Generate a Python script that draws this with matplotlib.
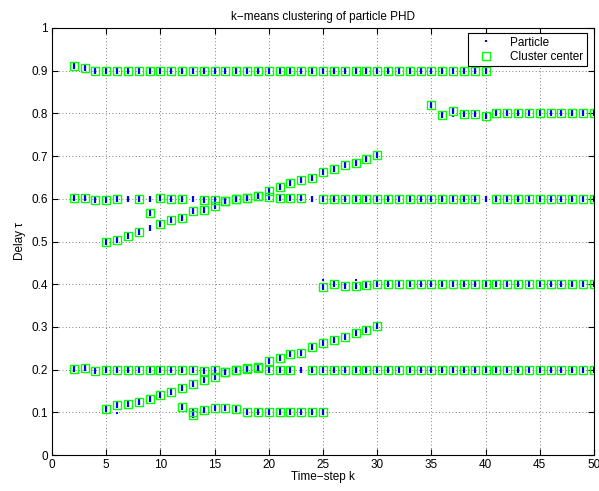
import matplotlib
matplotlib.use("Agg")
import matplotlib.pyplot as plt
import numpy as np

plt.rcParams['font.family'] = ['Liberation Sans', 'DejaVu Sans']

# ---- cluster-center tracks (time step k, delay tau) ----
k_A = list(range(2, 41))
tau_A = [0.911, 0.906, 0.899] + [0.900] * 36

k_B = list(range(35, 51))
tau_B = [0.819, 0.797, 0.806, 0.799, 0.798, 0.795] + [0.800] * 10

k_C = [2, 3, 4, 5, 6, 8, 10, 11, 12, 14, 15, 16, 17, 18, 19, 20, 21, 22, 23] + \
      list(range(25, 40)) + list(range(41, 51))
tau_C = [0.603, 0.601, 0.598, 0.598, 0.600, 0.600, 0.601, 0.600, 0.600, 0.598, 0.598,
         0.595, 0.599, 0.603, 0.607, 0.605, 0.603, 0.602, 0.602] + \
        [0.600] * 15 + [0.600] * 10

k_H = list(range(5, 31))
tau_H = [0.498, 0.503, 0.512, 0.523, 0.566, 0.541, 0.550, 0.556, 0.571, 0.574, 0.584,
         0.595, 0.599, 0.603, 0.607, 0.619, 0.628, 0.636, 0.645, 0.649, 0.662, 0.669,
         0.678, 0.685, 0.693, 0.702]

k_G = list(range(25, 51))
tau_G = [0.393, 0.400, 0.395, 0.395, 0.397] + [0.400] * 21

k_E = list(range(5, 31))
tau_E = [0.107, 0.117, 0.120, 0.125, 0.130, 0.140, 0.147, 0.156, 0.166, 0.176, 0.182,
         0.195, 0.198, 0.204, 0.207, 0.219, 0.226, 0.236, 0.240, 0.252, 0.262, 0.269,
         0.276, 0.285, 0.293, 0.302]

k_D = list(range(2, 23)) + list(range(24, 51))
tau_D = [0.201, 0.204, 0.197, 0.198, 0.199, 0.200, 0.200, 0.200, 0.200, 0.200, 0.200,
         0.200, 0.197, 0.198, 0.195, 0.198, 0.201, 0.203, 0.200, 0.200, 0.200] + \
        [0.200] * 27

k_F = [12, 13, 13, 14, 15, 16, 17, 18, 19, 20, 21, 22, 23, 24, 25]
tau_F = [0.112, 0.101, 0.094, 0.105, 0.109, 0.109, 0.107, 0.101, 0.100, 0.100, 0.100,
         0.100, 0.100, 0.100, 0.100]

# ---- particle clouds without a cluster center ----
k_extra = [7, 9, 13, 9, 23, 24, 40]
tau_extra = [0.600, 0.600, 0.600, 0.532, 0.200, 0.600, 0.600]
# ---- isolated single particles ----
k_single = [6, 37, 25, 28]
tau_single = [0.098, 0.793, 0.410, 0.410]

center_k = k_A + k_B + k_C + k_H + k_G + k_E + k_D + k_F
center_tau = tau_A + tau_B + tau_C + tau_H + tau_G + tau_E + tau_D + tau_F

particle_k = center_k + k_extra
particle_tau = center_tau + tau_extra

W, H = 599, 491
fig = plt.figure(figsize=(W / 100, H / 100), dpi=100)
ax = fig.add_axes([52 / W, 1 - 455 / H, (594 - 52) / W, (455 - 28) / H])

ax.plot(particle_k, particle_tau, linestyle='none', marker='|', markersize=5,
        markeredgewidth=1.6, color='#0000ff', label='Particle')
ax.plot(k_single, tau_single, linestyle='none', marker='s', markersize=1.5,
        markeredgewidth=0, color='#0000ff')
ax.plot(center_k, center_tau, linestyle='none', marker='s', markersize=5.5,
        markerfacecolor='none', markeredgecolor='#00ff00', markeredgewidth=1.0,
        label='Cluster center')

ax.set_xlim(0, 50)
ax.set_ylim(0, 1)
ax.set_xticks(np.arange(0, 51, 5))
ax.set_yticks(np.arange(0, 1.01, 0.1))
ax.set_yticklabels(['0', '0.1', '0.2', '0.3', '0.4', '0.5', '0.6', '0.7', '0.8', '0.9', '1'])
ax.grid(True, color='#555555', linestyle=(0, (1, 3)), linewidth=0.6)
ax.tick_params(direction='in', length=4, width=0.8, top=True, right=True,
               labelsize=8.5, pad=3)
for s in ax.spines.values():
    s.set_linewidth(0.8)
    s.set_color('black')

ax.set_title('k\u2212means clustering of particle PHD', fontsize=8.5, pad=6)
ax.set_xlabel('Time\u2212step k', fontsize=8.5, labelpad=0)
ax.set_ylabel('Delay \u03c4', fontsize=8.5, labelpad=4)

leg = ax.legend(loc='upper right', bbox_to_anchor=((587 - 52) / 542, (455 - 33) / 427),
                borderaxespad=0, fontsize=8.5, fancybox=False, framealpha=1,
                edgecolor='black', handlelength=2.5, borderpad=0.3, labelspacing=0.2)
leg.get_frame().set_linewidth(0.8)
leg.legend_handles[0].set_markersize(1)

fig.savefig('out.png', dpi=100)
